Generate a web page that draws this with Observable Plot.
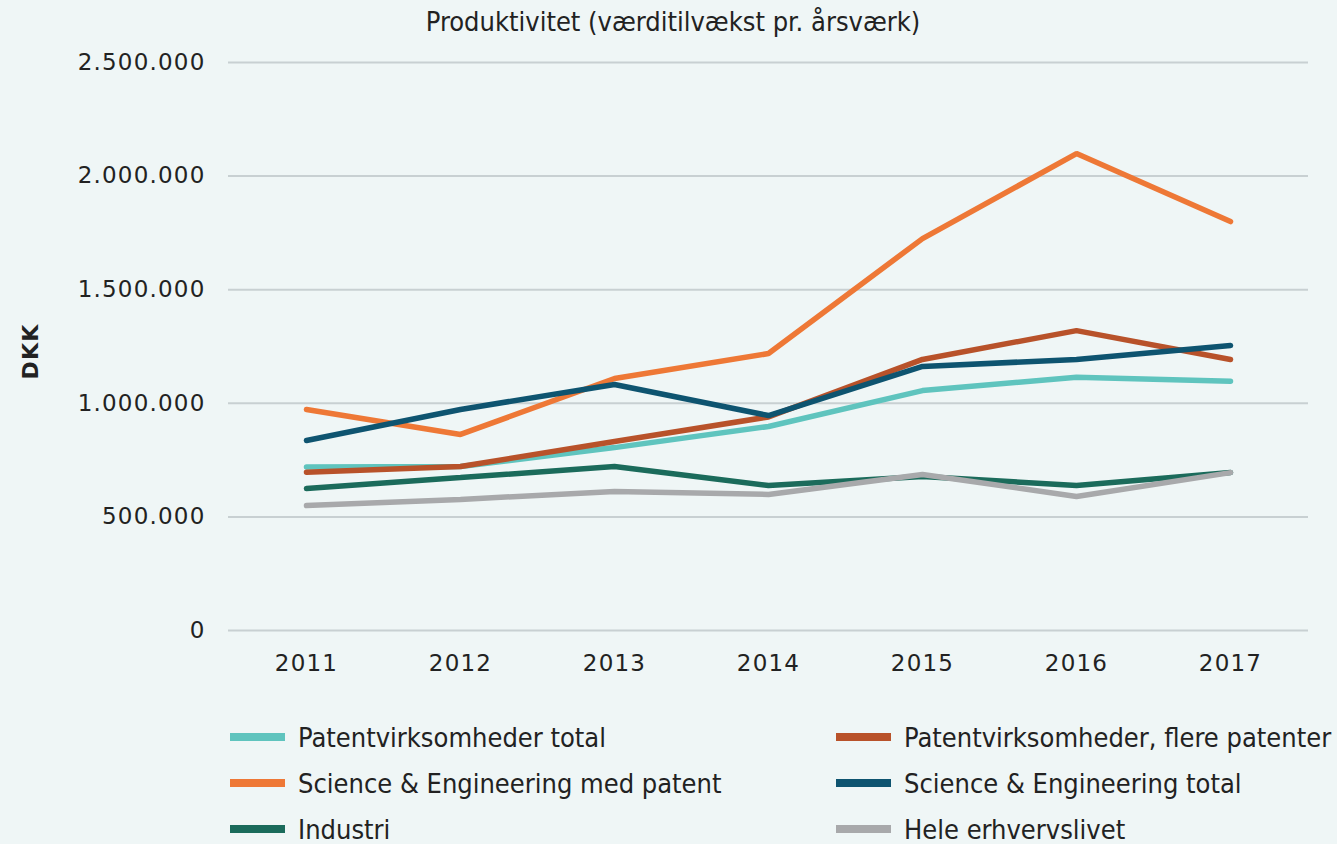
<!DOCTYPE html>
<html><head><meta charset="utf-8">
<script src="https://cdn.jsdelivr.net/npm/d3@7"></script>
<script src="https://cdn.jsdelivr.net/npm/@observablehq/plot@0.6"></script>
<style>
html,body{margin:0;padding:0;background:#eff6f6;width:1337px;height:844px;overflow:hidden;}
#title{position:absolute;top:6px;left:0;width:1346px;text-align:center;font-family:"DejaVu Sans Condensed","Liberation Sans Narrow","DejaVu Sans",sans-serif;font-size:27px;color:#222;line-height:1.164;}
#chart{position:absolute;top:40px;left:0;}
#legend{position:absolute;top:718px;left:230px;width:1107px;display:grid;grid-template-columns:606px 500px;row-gap:8px;font-family:"DejaVu Sans Condensed","Liberation Sans Narrow","DejaVu Sans",sans-serif;font-size:27px;color:#222;}
.item{display:flex;align-items:center;height:38px;white-space:nowrap;}
.sw{width:55px;height:8px;margin-right:13px;flex:none;}
</style></head>
<body>
<div id="title">Produktivitet (værditilvækst pr. årsværk)</div>
<div id="chart"></div>
<div id="legend"></div>
<script>
const years = ["2011","2012","2013","2014","2015","2016","2017"];
const seriesNames = ["Patentvirksomheder total","Patentvirksomheder, flere patenter","Science & Engineering med patent","Science & Engineering total","Industri","Hele erhvervslivet"];
const seriesColors = ["#5fc4be","#b8522a","#ee7836","#0e5470","#1b6b5b","#a8a9ab"];
const patentTotal = [720000,722000,805000,898000,1056000,1115000,1097000];
const patentFlere = [697000,722000,832000,940000,1193000,1320000,1193000];
const seMedPatent = [973000,863000,1109000,1219000,1725000,2099000,1800000];
const seTotal = [836000,973000,1083000,946000,1162000,1193000,1254000];
const industri = [625000,673000,722000,638000,678000,638000,695000];
const heleErhverv = [550000,577000,612000,599000,687000,590000,695000];
const yTicks = [0,500000,1000000,1500000,2000000,2500000];

const allSeries = [patentTotal,patentFlere,seMedPatent,seTotal,industri,heleErhverv];
const data = [];
allSeries.forEach((vals,i)=>vals.forEach((v,j)=>data.push({series:seriesNames[i],year:years[j],value:v})));

const fmt = d3.formatLocale({thousands:".",grouping:[3],decimal:",",currency:["",""]}).format(",");

const plot = Plot.plot({
  width:1337,height:660,
  marginTop:22,marginBottom:70,marginLeft:228,marginRight:29,
  style:{background:"transparent",fontFamily:"'DejaVu Sans',Verdana,sans-serif",fontSize:"23px",color:"#222",letterSpacing:"1.2px"},
  x:{type:"point",domain:years,padding:0.5,label:null},
  y:{domain:[0,2500000],label:null},
  color:{domain:seriesNames,range:seriesColors},
  marks:[
    Plot.gridY(yTicks,{stroke:"#c8d0d2",strokeOpacity:1,strokeWidth:2}),
    Plot.axisY(yTicks,{tickSize:0,tickPadding:23,tickFormat:fmt,label:null,fontSize:23}),
    Plot.axisX({tickSize:0,tickPadding:24,label:null,fontSize:23}),
    Plot.line(data,{x:"year",y:"value",z:"series",stroke:"series",strokeWidth:5.5,strokeLinecap:"round",strokeLinejoin:"miter"}),
    Plot.text(["DKK"],{frameAnchor:"left",dx:-198,dy:5,rotate:-90,textAnchor:"middle",fontWeight:"bold",fontSize:22,fill:"#222"})
  ]
});
document.getElementById("chart").appendChild(plot);

const leg = document.getElementById("legend");
seriesNames.forEach((name,i)=>{
  const d=document.createElement("div");d.className="item";
  const s=document.createElement("span");s.className="sw";s.style.background=seriesColors[i];
  const t=document.createElement("span");t.textContent=name;
  d.appendChild(s);d.appendChild(t);leg.appendChild(d);
});
</script>
</body></html>
